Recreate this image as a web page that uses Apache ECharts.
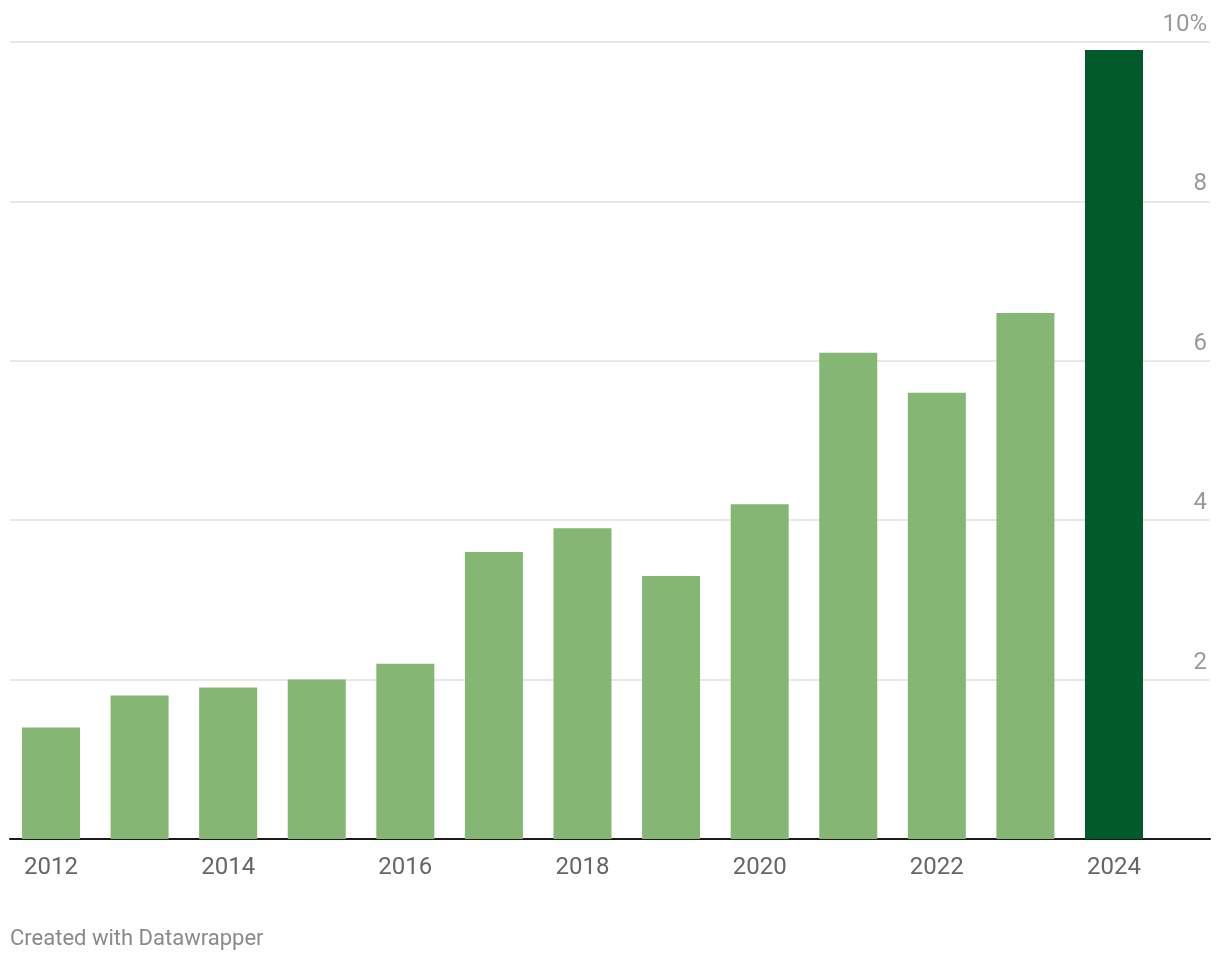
<!DOCTYPE html>
<html>
<head>
<meta charset="utf-8">
<script src="https://cdn.jsdelivr.net/npm/echarts@6/dist/echarts.min.js"></script>
<style>
html,body{margin:0;padding:0;background:#fff;}
#chart{width:1220px;height:962px;}
</style>
</head>
<body>
<div id="chart"></div>
<script>
const years = ['2012','2013','2014','2015','2016','2017','2018','2019','2020','2021','2022','2023','2024'];
const values = [1.4, 1.8, 1.9, 2.0, 2.2, 3.6, 3.9, 3.3, 4.2, 6.1, 5.6, 6.6, 9.9];
const highlightYear = '2024';
const yTicks = [0, 2, 4, 6, 8, 10];

const chart = echarts.init(document.getElementById('chart'), null, {renderer: 'canvas'});
const font = 'Roboto, "Noto Sans", sans-serif';

chart.setOption({
  backgroundColor: '#ffffff',
  animation: false,
  textStyle: {fontFamily: font},
  grid: [
    {left: 6.7, right: 61.7, top: 42, bottom: 123, containLabel: false},
    {left: 10, right: 10, top: 42, bottom: 123, containLabel: false}
  ],
  xAxis: [
    {
      type: 'category', gridIndex: 0, data: years,
      axisLine: {show: false}, axisTick: {show: false},
      axisLabel: {interval: 1, color: '#666666', fontSize: 24, margin: 17, fontFamily: font},
      splitLine: {show: false}
    },
    {
      type: 'value', gridIndex: 1, min: 0, max: 1,
      axisLine: {show: true, onZero: false, lineStyle: {color: '#1a1a1a', width: 2}},
      axisTick: {show: false}, axisLabel: {show: false}, splitLine: {show: false}
    }
  ],
  yAxis: [
    {
      type: 'value', gridIndex: 0, min: 0, max: 10, interval: 2,
      axisLine: {show: false}, axisTick: {show: false},
      axisLabel: {show: false}, splitLine: {show: false}
    },
    {
      type: 'value', gridIndex: 1, min: 0, max: 10, interval: 2, position: 'right',
      axisLine: {show: false}, axisTick: {show: false},
      axisLabel: {
        inside: true, margin: 3, align: 'right', verticalAlign: 'bottom',
        lineHeight: 34,
        color: '#9a9a9a', fontSize: 24, fontFamily: font,
        formatter: function (v) {
          if (v === 0) return '';
          if (v === yTicks[yTicks.length - 1]) return v + '%';
          return String(v);
        }
      },
      splitLine: {show: true, lineStyle: {color: '#e0e0e0', width: 1.5}}
    }
  ],
  series: [
    {
      type: 'bar', xAxisIndex: 0, yAxisIndex: 0,
      data: values, barWidth: 58,
      itemStyle: {
        color: function (p) { return years[p.dataIndex] === highlightYear ? '#02592a' : '#85b674'; }
      },
      z: 3
    }
  ],
  graphic: [
    {
      type: 'text', left: 10, top: 928, z: 10,
      style: {text: 'Created with Datawrapper', fill: '#8a8a8a', fontSize: 22, fontFamily: font}
    }
  ]
});
</script>
</body>
</html>
